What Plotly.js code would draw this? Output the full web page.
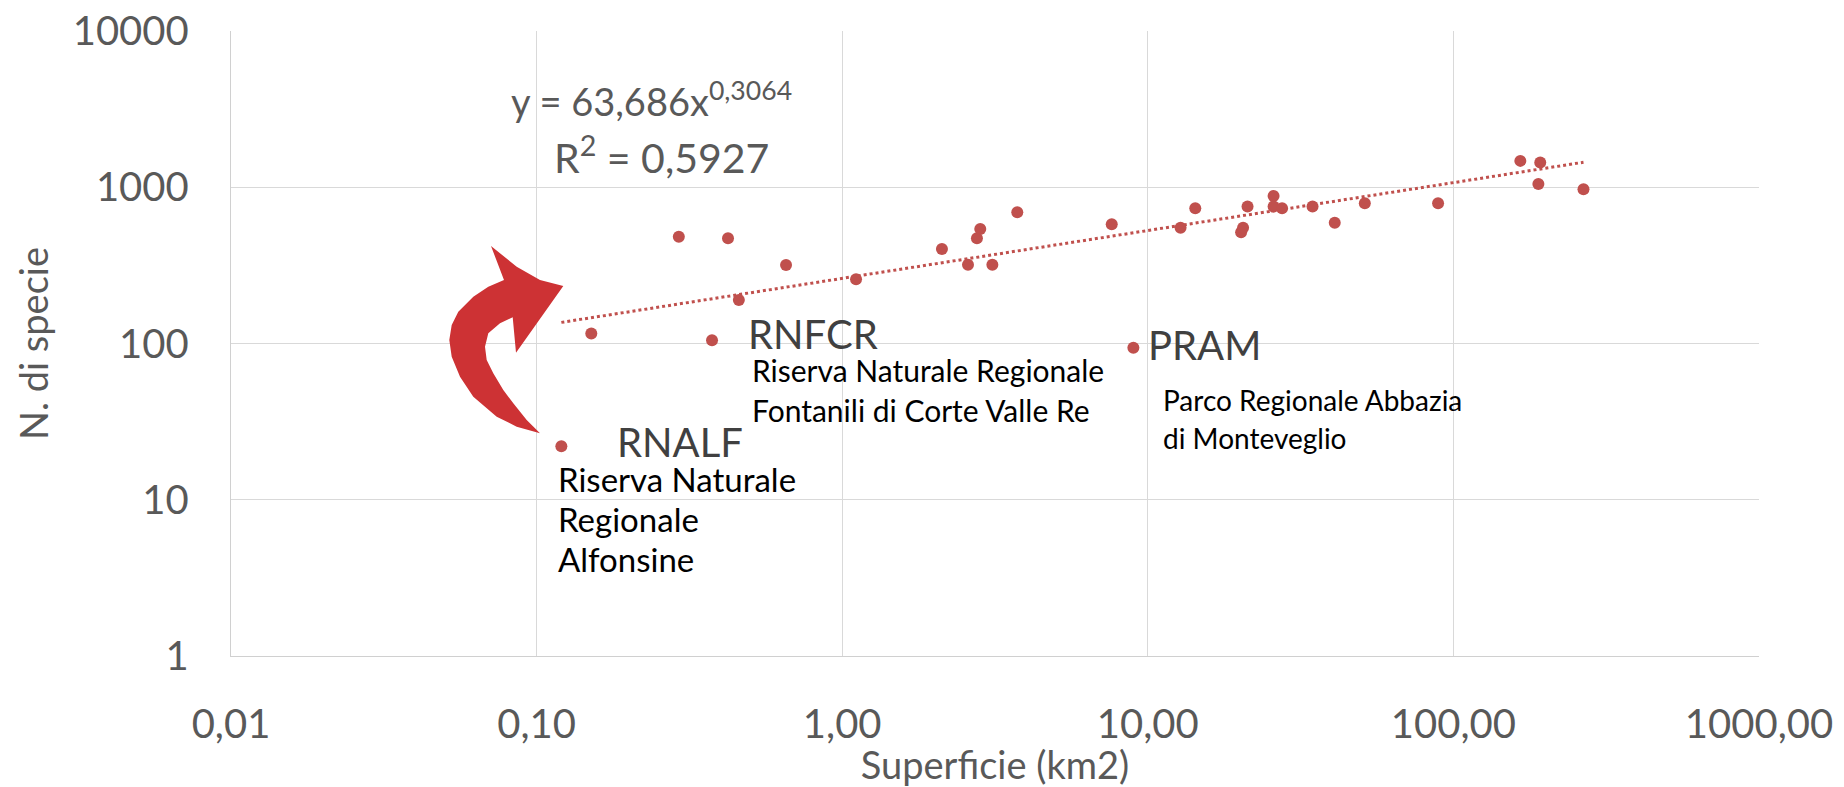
<!DOCTYPE html>
<html><head><meta charset="utf-8">
<script src="https://cdn.plot.ly/plotly-3.0.1.min.js"></script>
<style>html,body{margin:0;padding:0;background:#fff;}</style>
</head><body><div id="chart" style="width:1844px;height:787px;"></div>
<script>
// ---- data ----
const areaKm2 = [0.1205, 0.151, 0.292, 0.375, 0.423, 0.459, 0.655, 1.11, 2.12, 2.58, 2.76, 2.83, 3.10, 3.74, 7.62, 8.97, 12.8, 14.3, 20.2, 20.5, 21.2, 25.8, 25.8, 27.5, 34.6, 40.9, 51.3, 89.1, 165.6, 192.4, 189.7, 266.5];
const speciesCount = [22, 116, 482, 105, 471, 190, 318, 258, 402, 319, 471, 541, 319, 692, 580, 94, 551, 733, 515, 550, 752, 879, 752, 733, 752, 593, 789, 789, 1475, 1440, 1049, 971];
const xTickVals = [0.01, 0.1, 1, 10, 100, 1000];
const xTickText = ['0,01', '0,10', '1,00', '10,00', '100,00', '1000,00'];
const yTickVals = [1, 10, 100, 1000, 10000];
const yTickText = ['1', '10', '100', '1000', '10000'];
// displayed power trendline (fitted on hectares)
const trendA = 63.686;
const trendB = 0.3064;
const haPerKm2 = 100;

// trendline spans the data range
const xMin = Math.min(...areaKm2), xMax = Math.max(...areaKm2);
const trendX = [xMin, xMax];
const trendY = trendX.map(v => trendA * Math.pow(v * haPerKm2, trendB));

const RED = '#c0504d';
const GREY = '#595959';

// plot-area geometry helper for decorations (pixel -> paper)
const W = 1844, H = 787, ML = 231, MR = 85, MT = 31, MB = 131;
const PW = W - ML - MR, PH = H - MT - MB;
const px = x => (x - ML) / PW;
const py = y => (H - MB - y) / PH;

function ann(text, x, y, size, color, extra) {
  return Object.assign({
    text: text, xref: 'paper', yref: 'paper', x: px(x), y: py(y),
    xanchor: 'left', yanchor: 'middle', showarrow: false, borderpad: 0, borderwidth: 0,
    font: {family: 'Lato, sans-serif', size: size, color: color}
  }, extra || {});
}

const annotations = [
  ann('y = 63,686x<sup>0,3064</sup>', 511, 99, 38, GREY),
  ann('R<sup>2</sup> = 0,5927', 554, 155, 41, GREY),
  ann('RNFCR', 748, 334, 40, '#404040'),
  ann('Riserva Naturale Regionale', 752, 370, 30, '#000'),
  ann('Fontanili di Corte Valle Re', 752, 410, 30, '#000'),
  ann('PRAM', 1148, 345, 40, '#404040'),
  ann('Parco Regionale Abbazia', 1163, 400, 28, '#000'),
  ann('di Monteveglio', 1163, 438, 28, '#000'),
  ann('RNALF', 617, 442, 40, '#404040'),
  ann('Riserva Naturale', 558, 479, 33, '#000'),
  ann('Regionale', 558, 519, 33, '#000'),
  ann('Alfonsine', 558, 559, 33, '#000')
];

// curved block arrow decoration (pixel outline -> paper)
const arrowPts = [
  [540,433.3],[516.7,426.7],[496.7,416.7],[473.3,396.7],[460,376.7],[451.7,356.7],[449.3,340],
  [451.7,325],[458.3,311.7],[473.3,296.7],[488.3,286.7],[504,280],
  [491,246],[516.7,266.7],[540,280],[563.3,286],
  [516,352.7],[512.7,317.3],
  [500,323.3],[488.3,333.3],[485,346.7],[486.7,360],[493.3,373.3],[503.3,390],[513.3,403.3],[526.7,420]
];
const arrowPath = 'M ' + arrowPts.map(p => px(p[0]).toFixed(5) + ',' + py(p[1]).toFixed(5)).join(' L ') + ' Z';

const traces = [
  {x: trendX, y: trendY, type: 'scatter', mode: 'lines',
   line: {color: RED, width: 3, dash: 'dot'}, hoverinfo: 'skip'},
  {x: areaKm2, y: speciesCount, type: 'scatter', mode: 'markers',
   marker: {color: RED, size: 12}}
];

const layout = {
  width: W, height: H,
  margin: {l: ML, r: MR, t: MT, b: MB, pad: 0},
  paper_bgcolor: '#fff', plot_bgcolor: '#fff',
  showlegend: false,
  font: {family: 'Lato, sans-serif', color: GREY},
  xaxis: {
    type: 'log', range: [-2, 3], tickvals: xTickVals, ticktext: xTickText,
    showgrid: true, gridcolor: '#d9d9d9', gridwidth: 1.3, zeroline: false,
    showline: true, linecolor: '#d0d0d0', linewidth: 1.3, ticks: '',
    ticklabelstandoff: 33, automargin: false,
    tickfont: {size: 40, color: GREY},
    title: {text: 'Superficie (km2)', font: {size: 38, color: GREY}, standoff: 4}
  },
  yaxis: {
    type: 'log', range: [0, 4], tickvals: yTickVals, ticktext: yTickText,
    showgrid: true, gridcolor: '#d9d9d9', gridwidth: 1.3, zeroline: false,
    showline: true, linecolor: '#d0d0d0', linewidth: 1.3, ticks: '',
    ticklabelstandoff: 33, automargin: false,
    tickfont: {size: 40, color: GREY},
    title: {text: 'N. di specie', font: {size: 38, color: GREY}, standoff: 12}
  },
  shapes: [{type: 'path', xref: 'paper', yref: 'paper', path: arrowPath,
            fillcolor: '#cd3234', line: {width: 0}, layer: 'above'}],
  annotations: annotations
};

Plotly.newPlot('chart', traces, layout, {staticPlot: true, displayModeBar: false});
</script></body></html>
